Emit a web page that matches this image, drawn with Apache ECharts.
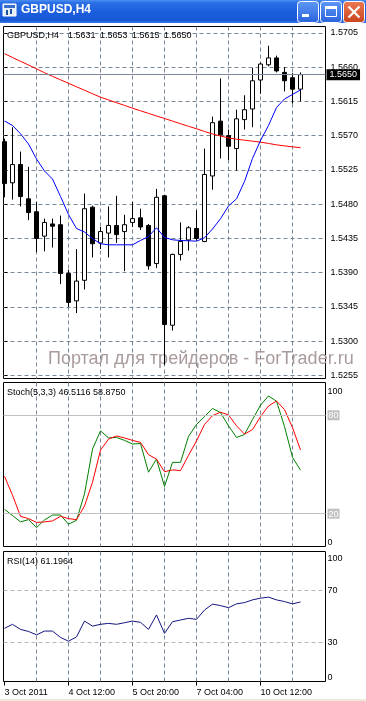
<!DOCTYPE html>
<html>
<head>
<meta charset="utf-8">
<script src="https://cdn.jsdelivr.net/npm/echarts@6.0.0/dist/echarts.min.js"></script>
<style>
html,body{margin:0;padding:0;background:#fff;}
#c{width:366px;height:701px;}
</style>
</head>
<body>
<div id="c"></div>
<script>
// ---------------- DATA ----------------
const symbol = 'GBPUSD,H4';
const opens  = [1.5562,1.5508,1.5532,1.5487,1.5470,1.5438,1.5454,1.5453,1.5389,1.5353,1.5380,1.5476,1.5429,1.5442,1.5452,1.5444,1.5456,1.5462,1.5452,1.5402,1.5491,1.5321,1.5414,1.5433,1.5448,1.5431,1.5517,1.5589,1.5570,1.5553,1.5591,1.5605,1.5643,1.5663,1.5672,1.5653,1.5646,1.5631];
const highs  = [1.5566,1.5581,1.5549,1.5529,1.5483,1.5461,1.5461,1.5465,1.5394,1.5421,1.5494,1.5478,1.5450,1.5477,1.5491,1.5466,1.5483,1.5474,1.5454,1.5500,1.5492,1.5415,1.5456,1.5451,1.5472,1.5553,1.5595,1.5645,1.5578,1.5604,1.5623,1.5659,1.5666,1.5688,1.5675,1.5660,1.5652,1.5653];
const lows   = [1.5489,1.5486,1.5477,1.5459,1.5417,1.5418,1.5423,1.5375,1.5345,1.5337,1.5368,1.5410,1.5421,1.5410,1.5429,1.5392,1.5450,1.5446,1.5394,1.5396,1.5269,1.5314,1.5406,1.5419,1.5432,1.5430,1.5499,1.5540,1.5538,1.5524,1.5578,1.5581,1.5625,1.5661,1.5653,1.5628,1.5612,1.5615];
const closes = [1.5507,1.5532,1.5490,1.5469,1.5435,1.5456,1.5451,1.5389,1.5351,1.5379,1.5474,1.5428,1.5444,1.5452,1.5440,1.5453,1.5461,1.5450,1.5399,1.5489,1.5322,1.5414,1.5431,1.5449,1.5435,1.5519,1.5587,1.5571,1.5556,1.5592,1.5604,1.5642,1.5664,1.5672,1.5655,1.5642,1.5631,1.5650];
const maSlow = [1.56776,1.56726,1.56676,1.56627,1.56577,1.56526,1.56478,1.56433,1.56387,1.56341,1.56296,1.56250,1.56204,1.56169,1.56132,1.56097,1.56060,1.56026,1.55992,1.55958,1.55925,1.55891,1.55856,1.55822,1.55790,1.55754,1.55721,1.55695,1.55669,1.55653,1.55640,1.55627,1.55614,1.55597,1.55579,1.55565,1.55553,1.55541];
const maFast = [1.55892,1.55833,1.55724,1.55590,1.55393,1.55235,1.55130,1.54901,1.54664,1.54480,1.54434,1.54349,1.54280,1.54266,1.54266,1.54266,1.54266,1.54323,1.54375,1.54490,1.54362,1.54332,1.54323,1.54319,1.54314,1.54358,1.54474,1.54608,1.54776,1.54870,1.55098,1.55400,1.55636,1.55833,1.56069,1.56181,1.56240,1.56299];
const stochMain   = [22.7,18.9,15.0,16.4,11.5,16.2,19.2,19.2,13.6,16.0,32.1,59.4,70.5,66.2,66.5,64.7,62.5,62.8,45.3,53.3,36.6,51.3,51.3,67.1,74.4,79.2,84.2,81.6,73.6,66.5,68.3,77.4,86.2,91.8,88.6,73.2,54.4,46.5116];
const stochSignal = [42.8,31.3,18.4,17.0,14.7,15.0,15.6,18.4,17.0,16.4,24.7,39.2,58.8,65.5,67.4,66.2,64.7,63.5,56.0,53.3,45.6,46.7,46.3,55.6,64.4,74.4,79.8,81.9,80.2,73.6,68.5,71.3,79.2,85.7,88.7,83.5,72.5,58.875];
const rsi = [40.9,44.0,40.1,38.5,35.9,38.8,38.8,33.9,31.0,34.3,46.5,42.6,44.0,44.7,44.0,45.2,46.5,45.5,40.1,51.2,37.0,46.0,47.3,48.6,47.8,55.0,59.5,58.4,56.8,59.7,60.7,62.8,64.1,64.9,62.8,61.5,59.7,61.1964];

const priceTicks = [1.5255,1.5300,1.5345,1.5390,1.5435,1.5480,1.5525,1.5570,1.5615,1.5660,1.5705];
const stochTicks = [0,20,80,100];
const rsiTicks   = [0,30,70,100];
const stochLevels = [80,20];
const rsiLevels   = [70,30];
const gridBars = [4,8,12,16,20,24,28,32,36];
const timeLabelBars = [0,8,16,24,32];
const timeLabels = ['3 Oct 2011','4 Oct 12:00','5 Oct 20:00','7 Oct 04:00','10 Oct 12:00'];
const watermark = 'Портал для трейдеров - ForTrader.ru';

// ---------------- CHART ----------------
const FONT = 'Liberation Sans, Arial, sans-serif';
const GRID_COLOR = '#778899';
const DASH = [4,3];
const X_MIN = -0.125, X_MAX = 40.125;
const PRICE_MIN = 1.525106, PRICE_MAX = 1.571327;
const last = a => a[a.length-1];
const pair = a => a.map((v,i)=>[i,v]);
const candleData = opens.map((o,i)=>[i,o,closes[i],lows[i],highs[i]]);

const chart = echarts.init(document.getElementById('c'), null, {renderer:'canvas', width:366, height:701, devicePixelRatio:1});

function gridAxis(gridIndex, position){
  return {type:'value', gridIndex, position, min:X_MIN, max:X_MAX,
    axisLine:{show:false}, axisTick:{show:false, customValues:gridBars},
    axisLabel:{show:false},
    splitLine:{show:true, lineStyle:{color:GRID_COLOR, type:DASH, width:1}}};
}
const gridBox = (top,height)=>({left:3.5, top, width:322, height, show:true, borderColor:'#000', borderWidth:1, backgroundColor:'transparent'});

const btnGrad = (a,b)=>new echarts.graphic.LinearGradient(0,0,0,1,[{offset:0,color:a},{offset:1,color:b}]);

// edge labels of indicator panes are pushed inside the pane (empty spacer line)
const edgeRich = (down, up) => ({
  sd:{lineHeight:down, fontSize:9}, su:{lineHeight:up, fontSize:9},
  n:{lineHeight:9, fontSize:9, color:'#000', fontFamily:FONT},
  lv:{backgroundColor:'#c0c0c0', color:'#fff', padding:[1,1,0,1], lineHeight:10, fontSize:9, fontFamily:FONT}
});
const edgeFmt = (top, bottom, boxed) => v => {
  if (v === top) return '{sd| }\n{n|' + v + '}';
  if (v === bottom) return '{n|' + v + '}\n{su| }';
  return boxed ? '{lv|' + v + '}' : '{n|' + v + '}';
};

const option = {
  animation:false,
  backgroundColor:'#fff',
  textStyle:{fontFamily:FONT},
  title:[
    {text:symbol, left:21, top:4, padding:0,
     textStyle:{color:'#fff', fontSize:12, fontWeight:'bold', fontFamily:FONT, textShadowColor:'#0a2a80', textShadowOffsetX:1, textShadowOffsetY:1, textShadowBlur:0}},
    {text:symbol+'\u2002\u2002'+[last(opens),last(highs),last(lows),last(closes)].map(v=>v.toFixed(4)).join('\u2002'),
     left:7, top:31, padding:0, textStyle:{color:'#000', fontSize:9, fontWeight:'normal', fontFamily:FONT}},
    {text:'Stoch(5,3,3) '+last(stochMain).toFixed(4)+' '+last(stochSignal).toFixed(4),
     left:7, top:388, padding:0, textStyle:{color:'#000', fontSize:9, fontWeight:'normal', fontFamily:FONT}},
    {text:'RSI(14) '+last(rsi).toFixed(4),
     left:7, top:557, padding:0, textStyle:{color:'#000', fontSize:9, fontWeight:'normal', fontFamily:FONT}}
  ],
  graphic:[
    {type:'rect', z:0, shape:{x:0,y:0,width:366,height:23},
     style:{fill:new echarts.graphic.LinearGradient(0,0,0,1,[
       {offset:0,color:'#4b8ef2'},{offset:0.12,color:'#2b6fe6'},{offset:0.5,color:'#1c5fde'},{offset:0.88,color:'#1757d6'},{offset:1,color:'#3a7ae6'}])}},
    // window icon
    {type:'rect', shape:{x:3,y:4,width:13,height:12}, style:{fill:'#e6eefa', stroke:'#ffffff', lineWidth:1}, z:1},
    {type:'rect', shape:{x:4,y:5,width:11,height:3}, style:{fill:'#3a6fd0'}, z:1},
    {type:'rect', shape:{x:6,y:10,width:2,height:5}, style:{fill:'#2050a0'}, z:1},
    {type:'rect', shape:{x:10,y:9,width:2,height:5}, style:{fill:'#2050a0'}, z:1},
    // minimize
    {type:'rect', shape:{x:297.5,y:1.5,width:21,height:21,r:3}, style:{fill:btnGrad('#5f9af6','#2a62dc'), stroke:'#fff', lineWidth:1}, z:1},
    {type:'rect', shape:{x:302,y:14,width:7,height:3}, style:{fill:'#fff'}, z:2},
    // maximize
    {type:'rect', shape:{x:320.5,y:1.5,width:21,height:21,r:3}, style:{fill:btnGrad('#5f9af6','#2a62dc'), stroke:'#fff', lineWidth:1}, z:1},
    {type:'rect', shape:{x:325.5,y:6.5,width:11,height:10}, style:{fill:'none', stroke:'#fff', lineWidth:1}, z:2},
    {type:'rect', shape:{x:325,y:6,width:12,height:3}, style:{fill:'#fff'}, z:2},
    // close
    {type:'rect', shape:{x:343.5,y:1.5,width:21,height:21,r:3}, style:{fill:btnGrad('#ec7a55','#c8431c'), stroke:'#fff', lineWidth:1}, z:1},
    {type:'line', shape:{x1:348.5,y1:6.5,x2:359.5,y2:17.5}, style:{stroke:'#fff', lineWidth:2.2}, z:2},
    {type:'line', shape:{x1:359.5,y1:6.5,x2:348.5,y2:17.5}, style:{stroke:'#fff', lineWidth:2.2}, z:2},
    // bottom strip
    {type:'rect', shape:{x:0,y:699,width:366,height:2}, style:{fill:'#ece9d8'}, z:0},
    // watermark
    {type:'text', left:48, top:350, z:1, silent:true,
     style:{text:watermark, fill:'#a99b9b', font:'18px '+FONT}}
  ],
  grid:[gridBox(26.5,352), gridBox(382.5,164), gridBox(551.5,130)],
  xAxis:[
    gridAxis(0,'bottom'),
    gridAxis(1,'bottom'),
    gridAxis(2,'top'),
    {type:'value', gridIndex:2, position:'bottom', min:X_MIN, max:X_MAX,
     axisLine:{show:false},
     axisTick:{show:true, length:4, customValues:timeLabelBars, lineStyle:{color:'#000'}},
     axisLabel:{customValues:timeLabelBars, margin:7, align:'left', color:'#000', fontSize:9, fontFamily:FONT,
       formatter:v=>timeLabels[timeLabelBars.indexOf(v)]},
     splitLine:{show:false}}
  ],
  yAxis:[
    {type:'value', gridIndex:0, position:'right', min:PRICE_MIN, max:PRICE_MAX, scale:true,
     axisLine:{show:false},
     axisTick:{show:true, length:3, customValues:priceTicks, lineStyle:{color:'#000'}},
     axisLabel:{customValues:priceTicks, margin:5, color:'#000', fontSize:9, fontFamily:FONT, formatter:v=>v.toFixed(4)},
     splitLine:{show:true, lineStyle:{color:GRID_COLOR, type:DASH, width:1}}},
    {type:'value', gridIndex:1, position:'right', min:0, max:100,
     axisLine:{show:false}, axisTick:{show:false, customValues:stochTicks},
     axisLabel:{customValues:stochTicks, margin:2, color:'#000', fontSize:9, fontFamily:FONT,
       formatter:edgeFmt(100, 0, true), rich:edgeRich(19, 7)},
     splitLine:{show:false}},
    {type:'value', gridIndex:2, position:'right', min:0, max:100,
     axisLine:{show:false}, axisTick:{show:false, customValues:rsiTicks},
     axisLabel:{customValues:rsiTicks, margin:2, color:'#000', fontSize:9, fontFamily:FONT,
       formatter:edgeFmt(100, 0, false), rich:edgeRich(15, 8)},
     splitLine:{show:false}}
  ],
  series:[
    {type:'candlestick', xAxisIndex:0, yAxisIndex:0, data:candleData, barWidth:4, clip:true,
     itemStyle:{color:'#fff', color0:'#000', borderColor:'#000', borderColor0:'#000', borderWidth:1},
     emphasis:{disabled:true},
     markLine:{silent:true, symbol:['none','none'], animation:false, precision:4,
       lineStyle:{color:GRID_COLOR, type:'solid', width:1},
       label:{show:true, position:'end', distance:1, formatter:p=>Number(p.value).toFixed(4),
         backgroundColor:'#000', color:'#fff', fontSize:9, fontFamily:FONT, padding:[1,3,1,3], lineHeight:9},
       data:[{yAxis:last(closes)}]}},
    {type:'line', xAxisIndex:0, yAxisIndex:0, data:pair(maSlow), showSymbol:false, symbol:'none', clip:true,
     lineStyle:{color:'#ff0000', width:1}, emphasis:{disabled:true}, z:3},
    {type:'line', xAxisIndex:0, yAxisIndex:0, data:pair(maFast), showSymbol:false, symbol:'none', clip:true,
     lineStyle:{color:'#0000ff', width:1}, emphasis:{disabled:true}, z:3},
    {type:'line', xAxisIndex:1, yAxisIndex:1, data:pair(stochMain), showSymbol:false, symbol:'none', clip:true,
     lineStyle:{color:'#008000', width:1}, emphasis:{disabled:true}, z:3,
     markLine:{silent:true, symbol:['none','none'], animation:false, label:{show:false},
       lineStyle:{color:'#c0c0c0', type:'solid', width:1},
       data:stochLevels.map(v=>({yAxis:v}))}},
    {type:'line', xAxisIndex:1, yAxisIndex:1, data:pair(stochSignal), showSymbol:false, symbol:'none', clip:true,
     lineStyle:{color:'#ff0000', width:1}, emphasis:{disabled:true}, z:3},
    {type:'line', xAxisIndex:2, yAxisIndex:2, data:pair(rsi), showSymbol:false, symbol:'none', clip:true,
     lineStyle:{color:'#151580', width:1}, emphasis:{disabled:true}, z:3,
     markLine:{silent:true, symbol:['none','none'], animation:false, label:{show:false},
       lineStyle:{color:'#b8b8b8', type:DASH, width:1},
       data:rsiLevels.map(v=>({yAxis:v}))}}
  ]
};
chart.setOption(option);
</script>
</body>
</html>
